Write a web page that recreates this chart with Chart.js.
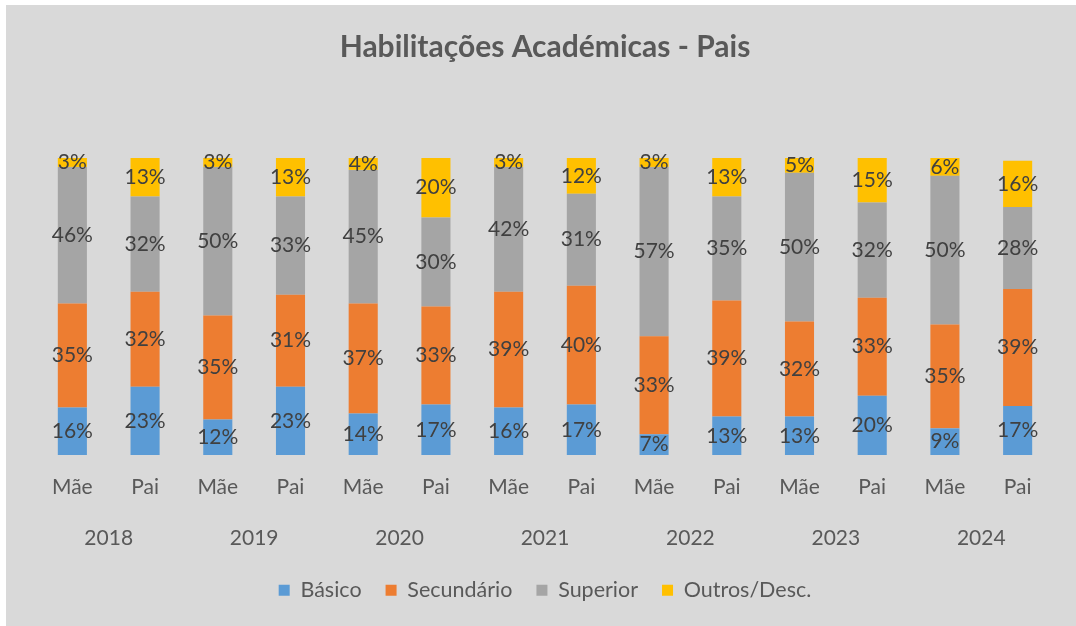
<!DOCTYPE html>
<html>
<head>
<meta charset="utf-8">
<script src="https://cdn.jsdelivr.net/npm/chart.js@4"></script>
<style>
  body { margin: 0; background: #ffffff; }
  #wrap { position: absolute; left: 6px; top: 5px; width: 1070px; height: 621px; background: #d9d9d9; }
</style>
</head>
<body>
<div id="wrap"><canvas id="myChart" width="1070" height="621"></canvas></div>
<script>
const parents = ['Mãe', 'Pai', 'Mãe', 'Pai', 'Mãe', 'Pai', 'Mãe', 'Pai', 'Mãe', 'Pai', 'Mãe', 'Pai', 'Mãe', 'Pai'];
const years = ['2018', '2019', '2020', '2021', '2022', '2023', '2024'];

const basico     = [16, 23, 12, 23, 14, 17, 16, 17,  7, 13, 13, 20,  9, 16.5];
const secundario = [35, 32, 35, 31, 37, 33, 39, 40, 33, 39, 32, 33, 35, 39.4];
const superior   = [46, 32, 50, 33, 45, 30, 42, 31, 57, 35, 50, 32, 50, 27.6];
const outros     = [ 3, 13,  3, 13,  4, 20,  3, 12,  3, 13,  5, 15,  6, 15.6];

const canvas = document.getElementById('myChart');
const ctx = canvas.getContext('2d');

const FONT = 'Lato, "Liberation Sans", sans-serif';

// percentage labels centred in each segment
const segLabels = {
  id: 'segLabels',
  afterDatasetsDraw(chart) {
    const c = chart.ctx;
    c.save();
    c.font = '21px ' + FONT;
    c.fillStyle = '#404040';
    c.textAlign = 'center';
    c.textBaseline = 'middle';
    chart.data.datasets.forEach((ds, i) => {
      chart.getDatasetMeta(i).data.forEach((bar, j) => {
        const y = (bar.y + bar.base) / 2;
        c.fillText(Math.round(ds.data[j]) + '%', bar.x, y);
      });
    });
    c.restore();
  }
};

const data = {
  labels: parents,
  datasets: [
    { label: 'Básico', data: basico, backgroundColor: '#5b9bd5' },
    { label: 'Secundário', data: secundario, backgroundColor: '#ed7d31' },
    { label: 'Superior', data: superior, backgroundColor: '#a5a5a5' },
    { label: 'Outros/Desc.', data: outros, backgroundColor: '#ffc000' }
  ]
};

const myChart = new Chart(ctx, {
  type: 'bar',
  data: data,
  plugins: [segLabels],
  options: {
    responsive: false,
    animation: false,
    barPercentage: 0.4,
    categoryPercentage: 1.0,
    layout: { padding: { left: 30, right: 22, top: 0, bottom: 15 } },
    plugins: {
      title: {
        display: true,
        text: 'Habilitações Académicas - Pais',
        color: '#595959',
        font: { family: FONT, size: 30, weight: 'bold' },
        padding: { top: 24, bottom: 93 }
      },
      legend: {
        position: 'bottom',
        labels: {
          color: '#595959',
          font: { family: FONT, size: 21.5 },
          boxWidth: 11,
          boxHeight: 11,
          padding: 24
        }
      },
      tooltip: { enabled: false }
    },
    scales: {
      x: {
        stacked: true,
        grid: { display: false, drawTicks: false },
        border: { display: false },
        ticks: {
          color: '#595959',
          font: { family: FONT, size: 21 },
          padding: 20,
          autoSkip: false,
          maxRotation: 0
        }
      },
      x2: {
        type: 'category',
        labels: years,
        position: 'bottom',
        weight: 1,
        offset: true,
        grid: { display: false, drawTicks: false },
        border: { display: false },
        ticks: {
          color: '#595959',
          font: { family: FONT, size: 21 },
          padding: 5,
          autoSkip: false,
          maxRotation: 0
        }
      },
      y: {
        stacked: true,
        display: false,
        min: 0,
        max: 100
      }
    }
  }
});
</script>
</body>
</html>
